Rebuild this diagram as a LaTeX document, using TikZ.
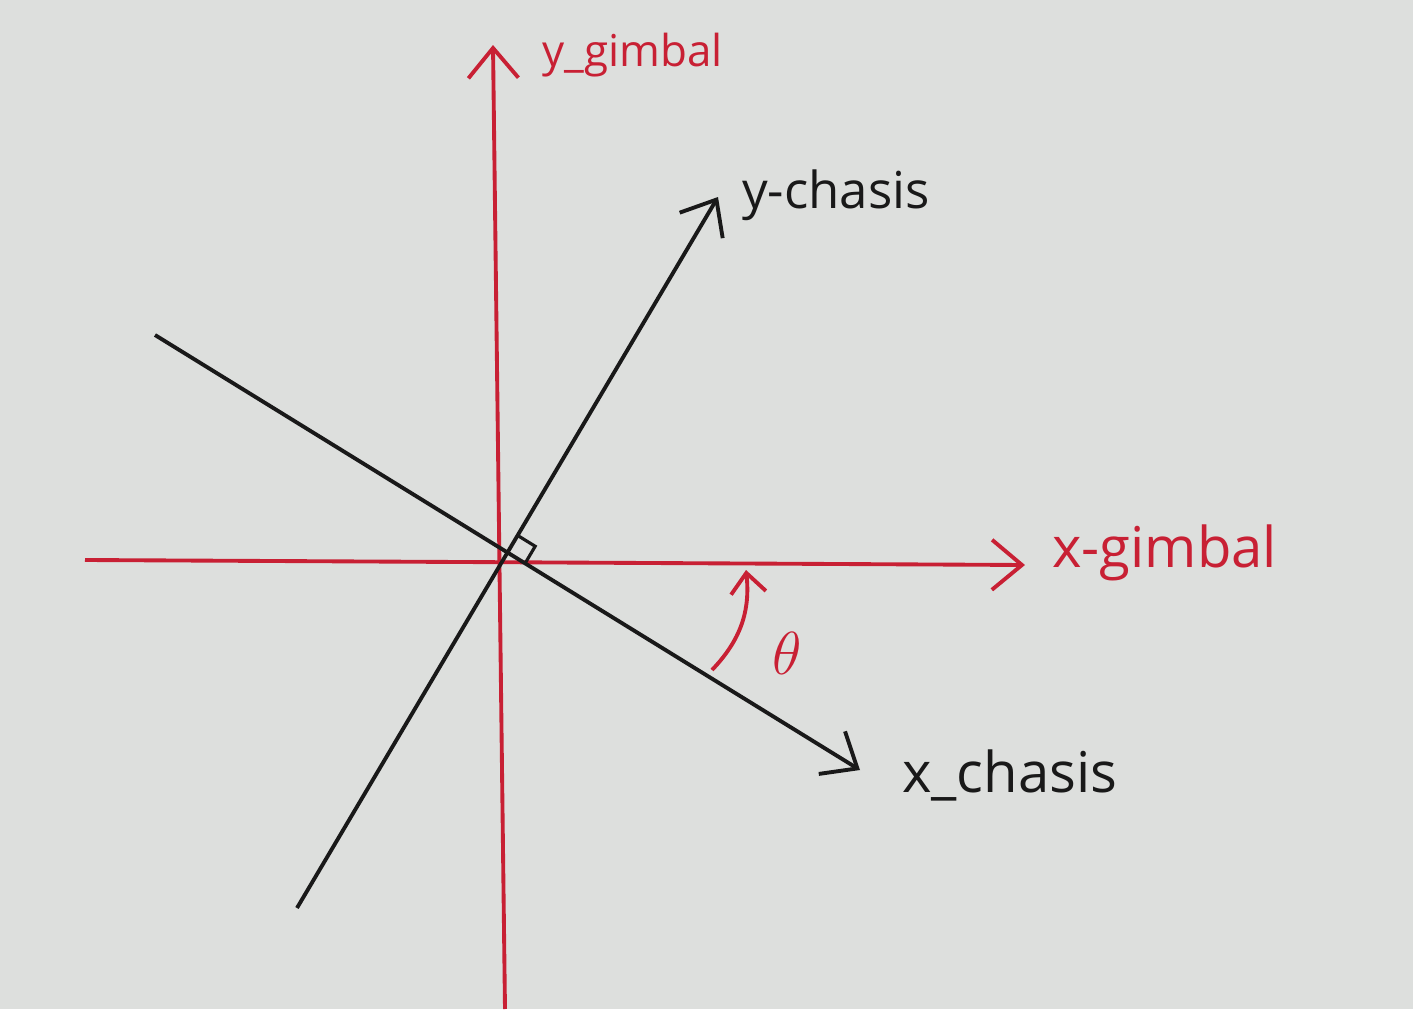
\documentclass[tikz,border=0pt]{standalone}
\usepackage{fontspec}
\setmainfont{Open Sans}
\usetikzlibrary{arrows.meta, positioning, calc}
\definecolor{paper}{RGB}{221,223,221}
\definecolor{penred}{RGB}{200,32,52}
\definecolor{penblack}{RGB}{25,25,25}

\begin{document}
\begin{tikzpicture}[
    axisred/.style={draw=penred, line width=1.1pt, -{Straight Barb[length=3mm, width=5mm, line width=1.1pt]}},
    axisblack/.style={draw=penblack, line width=1.1pt, -{Straight Barb[length=3mm, width=5mm, line width=1.1pt]}},
    lbl/.style={anchor=west, font=\fontsize{16}{18}\selectfont, inner sep=1pt}
  ]
    % paper
    \fill[paper] (0,0) rectangle (14.13,10.09);
    \useasboundingbox (0,0) rectangle (14.13,10.09);

    % gimbal frame
    \coordinate (yg0) at (5.05,0);
    \coordinate (yg1) at (4.93,9.64);
    \coordinate (xg0) at (0.85,4.49);
    \coordinate (xg1) at (10.25,4.44);
    \draw[axisred] (yg0) -- (yg1);
    \draw[axisred] (xg0) -- (xg1);
    \node[lbl, text=penred, font=\fontsize{12.5}{14}\selectfont] (ygl) at (5.38,9.54) {y\_gimbal};
    \node[lbl, text=penred] (xgl) at (10.48,4.56) {x-gimbal};

    % chasis frame
    \coordinate (yc0) at (2.97,1.01);
    \coordinate (yc1) at (7.18,8.12);
    \coordinate (xc0) at (1.55,6.74);
    \coordinate (xc1) at (8.60,2.39);
    \draw[axisblack] (yc0) -- (yc1);
    \draw[axisblack] (xc0) -- (xc1);
    \node[lbl, text=penblack, font=\fontsize{14.5}{16}\selectfont] (ycl) at (7.38,8.14) {y-chasis};
    \node[lbl, text=penblack] (xcl) at (8.98,2.34) {x\_chasis};

    % right angle
    \coordinate (oc) at (5.08,4.56);
    \draw[penblack, line width=0.9pt]
      ($(oc)!0.2cm!(yc1)$) -- ($(oc)!0.2cm!(yc1)+(oc)!0.2cm!(xc1)-(oc)$) -- ($(oc)!0.2cm!(xc1)$);

    % angle theta
    \coordinate (th0) at (7.12,3.39);
    \coordinate (th1) at (7.46,4.39);
    \draw[penred, line width=1.1pt, -{Straight Barb[length=2mm, width=3.5mm, line width=1.1pt]}]
      (th0) to[bend right=25] (th1);
    \node[text=penred, font=\fontsize{16}{18}\selectfont] (thl) at (7.87,3.56) {$\theta$};
\end{tikzpicture}
\end{document}
